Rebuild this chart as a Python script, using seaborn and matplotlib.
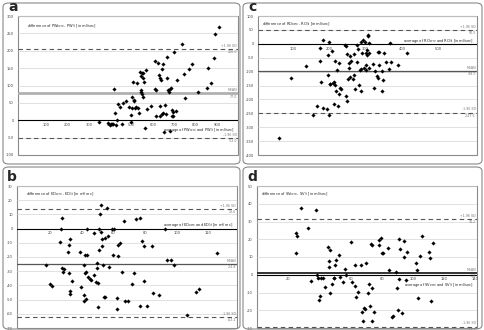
import matplotlib
matplotlib.use("Agg")
import matplotlib.pyplot as plt
import matplotlib.transforms as mtransforms
from matplotlib.patches import FancyBboxPatch
import numpy as np
import pandas as pd
import seaborn as sns

# ---- panel a ----
a_avg = [347, 389, 398, 405, 408, 412, 417, 420, 428, 431, 437, 447, 456, 459, 475, 487, 495, 498,
         501, 503, 506, 511, 512, 514, 519, 525, 530, 534, 537, 542, 544, 545, 548, 550, 551, 553,
         555, 556, 561, 566, 573, 589, 608, 611, 616, 616, 623, 628, 631, 634, 634, 639, 641, 644,
         647, 647, 653, 658, 659, 664, 667, 670, 675, 678, 680, 686, 687, 691, 694, 695, 698, 709,
         714, 737, 745, 748, 767, 784, 809, 853, 858, 872, 884, 889, 909]
a_diff = [-4, -9, -12.5, -11.5, -9.6, -10, 88.5, 22, -14, 2, 46, 38.5, -10, 50, 56, 38.5, -4, 14,
          34.6, 68, 108.7, 55.8, 58.7, 34.6, 38.5, 107.7, 36.5, 22, 140, 81.7, 86.5, 128, 136.5, 75,
          68, 134.6, 123, 109.6, -23, 144, 31.7, 41.3, 171, 89.4, 86.5, 12.5, 166, 130.8, 41.3, 123,
          12.5, 115, 17.3, 147, 161.5, 22, -32.7, 43, 19, 182.7, 123, 86.5, 81.7, 89.4, -30.8, 94,
          28.8, 12.5, 24, 12.5, 197, 27, 115, 219, 132.7, 63.5, 147, 161.5, 82.7, 92.3, 149, 105.8,
          178.8, 248, 267]
a_stats = [77.0, 206.0, -52.0]

# ---- panel b ----
b_avg = [17.5, 20, 21.3, 26.3, 27, 27.4, 27.6, 28, 29, 31.2, 31.6, 32, 32.2, 32.4, 32.6, 34, 39,
         39.6, 41.3, 41.5, 41.5, 41.7, 42, 42.4, 42.8, 43.2, 43.4, 43.8, 45, 46, 47.6, 47.8, 48.7,
         49.5, 49.8, 50.2, 50.2, 50.6, 50.8, 51.7, 52.3, 52.3, 52.7, 52.7, 53.3, 53.8, 54.4, 54.8,
         55.9, 56.5, 57.1, 59.2, 59.7, 60, 62.2, 62.2, 62.8, 62.8, 64.3, 65.6, 66.6, 67.5, 69.2,
         71.9, 72.8, 74, 76.5, 76.5, 78.2, 79.5, 79.5, 81.2, 84.6, 85.2, 88.8, 92.8, 94, 96, 98.3,
         106.1, 112.4, 113.9, 125.3]
b_diff = [-25.9, -39, -40.7, -9.1, 0, -27.8, 7.2, -30.8, -28.3, -16.6, -31.3, -11.9, -7.2, -43.7,
          -46, -36.7, -16.6, -41.3, -47, -50.7, -25.5, -18.5, -31.5, -49.5, -30.6, -18.5, 0, -34.3,
          -35.3, -36.2, -2.8, -32.5, -37.6, -27.8, -24.5, -55.4, -38.3, 0, -15, 10.3, 16.6, -2.6,
          -12.6, -7.2, -25.9, -48.4, -6.3, -48.4, 14.7, -5.4, -27.3, -0.5, -18.5, -0.5, -48.8, -56.3,
          -11.9, -19.2, -9.8, -30.8, 5.6, -51.2, -51.2, -39, -31.5, 6.8, -54.7, 7.7, -8.6, -12.1,
          -37.1, -54.7, -12.1, -45.3, -47, 0, -22, -22.4, -25.5, -61, -44.9, -42.7, -17]
b_stats = [-24.8, 13.6, -62.2]

# ---- panel c ----
c_avg = [61, 95, 135, 155, 167, 174, 175, 176, 183, 183, 194, 196, 197, 198, 199, 201, 203, 208,
         210, 212, 213, 215, 217, 218, 220, 225, 226, 228, 229, 231, 243, 245, 247, 249, 250, 252,
         253, 255, 256, 258, 261, 266, 267, 269, 270, 275, 277, 279, 281, 284, 286, 287, 287, 291,
         293, 295, 298, 300, 301, 302, 304, 305, 307, 308, 309, 310, 310, 321, 323, 325, 332, 334,
         335, 336, 337, 344, 346, 348, 350, 356, 365, 367, 369, 390, 413]
c_diff = [-339, -123.5, -81.5, -255.6, -223, -63.5, -15.6, -139, 14.4, -231, -235, -39.6, -111.5,
          4.8, -255.4, -143.9, -145, -27.6, -141.5, -139, -217, -147.5, -61, -171.5, -93.5, -223,
          -69.5, -181, -159.5, -163, -3.6, -7.2, -187, -36, -205, -126, -87.5, -69.5, -45.6, -120,
          -61, -127, -111.5, -36, -163, -64.7, -3.6, -19.2, -147.5, -93.5, -171.5, 4.8, -91, -33.6,
          12, -88.7, 4.8, -93.5, -75.5, -33.6, -40.8, -21.6, 26.4, 31.2, 2.4, -33.6, -87.5, -73,
          -159.5, -98.3, -117.5, -31.2, -123.5, -75.5, -31.2, -171.5, -97, -132, -33.6, -67, -91,
          2.4, -67, -78, -33.6]
c_stats = [-98.5, 50.5, -247.5]

# ---- panel d ----
d_avg = [24.7, 25.7, 25.3, 27.9, 32.6, 34.3, 38.1, 38.5, 38.9, 40, 40.6, 41.3, 42.3, 43.8, 45.3,
         46, 46.4, 46.6, 46.6, 48.1, 49.2, 49.6, 50.2, 50.6, 52.8, 53.4, 54.9, 56.2, 57, 60.4, 61.1,
         63, 63, 63.4, 64.5, 66.6, 67.2, 67.9, 68.7, 69.2, 70, 71.3, 71.7, 72.6, 72.8, 73.6, 73.6,
         74, 74.7, 78.5, 78.5, 79.6, 80.2, 80.6, 84, 84.7, 86.4, 87, 88.9, 89.6, 90.2, 90.7, 91.3,
         91.7, 92.8, 94.3, 94.3, 95.3, 96, 101.9, 102.4, 103, 104.5, 106, 110, 110.9, 111.5, 113]
d_diff = [23.8, 21.9, 12.2, 37.5, 26.1, -3.6, 36.6, 0, -2.1, -14.1, -12.2, -1.7, -1.9, -6.8, 15.4,
          7.9, 4.1, 14.1, -10.5, -5.3, -1.9, -1.7, 5.4, 8.4, 11.4, -1.1, -4.3, 3.4, 0, 18.6, -4.3,
          5.6, -6.6, -12.8, -9.6, 5.6, -21.2, -26.3, -18.9, -19.3, 6.6, -10.3, -5.4, -17.4, 17.3,
          16.7, -25.9, -7.7, -20.8, 19.3, 16.7, 20.6, 12.2, 12.4, 15, 2.8, -24, -23.5, 1.7, -7.3,
          -19.7, 20.1, -2.4, 14.4, -21.6, 18.9, 9.8, -2.8, 12.9, 6.9, 2.8, -13.1, 10.7, 21.9, 12.6,
          9.6, -15, 17.8]
d_stats = [1.0, 31.2, -29.2]

panels = [
    dict(letter="a", avg=a_avg, diff=a_diff, stats=a_stats,
         rect=(18, 16, 238, 155), xlim=(-33, 998), xticks=[100, 200, 300, 400, 500, 600, 700, 800, 900],
         ylim=(-100, 300), ystep=50, name="PW", xt_y=-29, xt_x=0.985, yt=(0.04, 0.955),
         mean_style=dict(color="#b0b0b0", lw=2.0)),
    dict(letter="c", avg=c_avg, diff=c_diff, stats=c_stats,
         rect=(258, 16, 477, 155), xlim=(3.5, 607), xticks=[100, 200, 300, 400, 500],
         ylim=(-400, 100), ystep=50, name="RO", xt_y=11, xt_x=0.985, yt=(0.02, 0.965),
         mean_style=dict(color="#555555", lw=0.9)),
    dict(letter="b", avg=b_avg, diff=b_diff, stats=b_stats,
         rect=(17, 186, 237, 328), xlim=(-1, 138), xticks=[20, 40, 60, 80, 100, 120],
         ylim=(-70, 30), ystep=10, name="ED", xt_y=2.8, xt_x=0.985, yt=(0.04, 0.97),
         mean_style=dict(color="#555555", lw=0.9)),
    dict(letter="d", avg=d_avg, diff=d_diff, stats=d_stats,
         rect=(257, 186, 477, 328), xlim=(0, 141), xticks=[20, 40, 60, 80, 100, 120, 140],
         ylim=(-30, 50), ystep=10, name="SV", xt_y=-5.6, xt_x=0.985, yt=(0.02, 0.97),
         mean_style=dict(color="#333333", lw=1.4)),
]

# outer panel frames (pixels: x0, y0, x1, y1)
frames = [(3, 3, 240, 164), (243, 3, 482, 164), (3, 167, 240, 329), (243, 167, 482, 329)]

sns.set_style("white")
W, H = 485, 330
fig = plt.figure(figsize=(W / 100, H / 100), dpi=100)

for (x0, y0, x1, y1) in frames:
    fig.patches.append(FancyBboxPatch((x0 / W, 1 - y1 / H), (x1 - x0) / W, (y1 - y0) / H,
                                      boxstyle="round,pad=0,rounding_size=0.012",
                                      transform=fig.transFigure, fill=False,
                                      ec="#8a8a8a", lw=0.8))

fs = 2.6
for p in panels:
    x0, y0, x1, y1 = p["rect"]
    ax = fig.add_axes([x0 / W, 1 - y1 / H, (x1 - x0) / W, (y1 - y0) / H])
    df = pd.DataFrame({"avg": p["avg"], "diff": p["diff"]})
    mean, up, lo = p["stats"]

    yticks = np.arange(p["ylim"][0], p["ylim"][1] + p["ystep"] / 2, p["ystep"])
    for yv in yticks:
        if yv != 0:
            ax.axhline(yv, color="#d4d4d4", lw=0.5, zorder=0)

    ax.axhline(0, color="black", lw=0.8, zorder=1)
    ax.axhline(mean, zorder=1, **p["mean_style"])
    ax.axhline(up, color="#555555", lw=0.8, ls=(0, (4, 3)), zorder=1)
    ax.axhline(lo, color="#555555", lw=0.8, ls=(0, (4, 3)), zorder=1)

    sns.scatterplot(data=df, x="avg", y="diff", ax=ax, marker="D", s=3.5,
                    color="black", edgecolor="black", linewidth=0.2, zorder=3, legend=False)

    ax.set_xlim(*p["xlim"])
    ax.set_ylim(*p["ylim"])
    ax.set_yticks(yticks)
    ax.set_yticklabels([f"{int(v)}" for v in yticks])
    ax.set_xticks(p["xticks"])
    ax.set_xticklabels([str(v) for v in p["xticks"]])
    ax.set_xlabel("")
    ax.set_ylabel("")

    # x axis sits on the zero line, frame drawn by the background patch
    for s in ["top", "right", "left"]:
        ax.spines[s].set_visible(False)
    ax.spines["bottom"].set_position(("data", 0))
    ax.spines["bottom"].set_visible(False)
    ax.patch.set_edgecolor("#8a8a8a")
    ax.patch.set_linewidth(0.8)
    ax.tick_params(axis="x", length=1.5, width=0.4, direction="inout", pad=1.2,
                   labelsize=fs, colors="#444444")
    ax.tick_params(axis="y", length=0, pad=3, labelsize=fs, colors="#444444")

    n = p["name"]
    ax.text(p["yt"][0], p["yt"][1],
            f"difference of {n}$_{{aero}}$ - {n}$_{{lit}}$ [in ml/sec]",
            transform=ax.transAxes, fontsize=fs, ha="left", va="top", color="#222222")
    trans = mtransforms.blended_transform_factory(ax.transAxes, ax.transData)
    ax.text(p["xt_x"], p["xt_y"], f"average of {n}$_{{aero}}$ and {n}$_{{lit}}$ [in ml/sec]",
            transform=trans, fontsize=fs, ha="right", va="center", color="#222222")

    for val, tag in [(up, "+1.96 SD"), (mean, "MEAN"), (lo, "-1.96 SD")]:
        ax.annotate(tag, (0.995, val), xycoords=trans, xytext=(0, 0.8),
                    textcoords="offset points", ha="right", va="bottom",
                    fontsize=fs * 0.9, color="#777777")
        ax.annotate(f"{val:.1f}", (0.995, val), xycoords=trans, xytext=(0, -0.8),
                    textcoords="offset points", ha="right", va="top",
                    fontsize=fs * 0.9, color="#777777")

    fig.text((x0 - 10) / W, 1 - (y0 - 2) / H, p["letter"], fontsize=10, fontweight="bold",
             ha="left", va="bottom")

fig.savefig("out.png", dpi=100)
